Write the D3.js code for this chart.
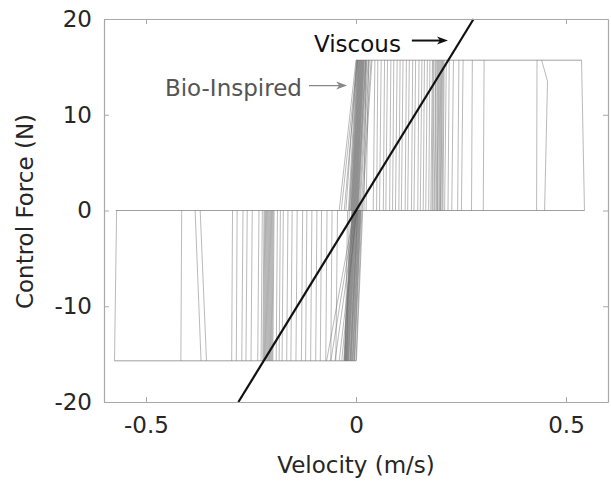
<!DOCTYPE html>
<html>
<head>
<meta charset="utf-8">
<script src="https://cdn.jsdelivr.net/npm/d3@7"></script>
<style>
  body { margin: 0; background: #fff; }
  text { font-family: "DejaVu Sans", sans-serif; }
</style>
</head>
<body>
<div id="chart"></div>
<script>
// saturation force of the bio-inspired controller (N)
const fSat = 15.7;

// upper branch: [velocity at F = 0, velocity at F = +fSat]
const upperLines = [
    [-0.040, 0.000], [-0.035, 0.003], [-0.028, 0.004], [-0.024, 0.001],
    [-0.018, 0.002], [-0.016, 0.004], [-0.015, 0.005], [-0.013, 0.006], [-0.012, 0.007],
    [-0.011, 0.008], [-0.010, 0.009], [-0.009, 0.010], [-0.008, 0.011], [-0.007, 0.012],
    [-0.006, 0.013], [-0.005, 0.014], [-0.004, 0.015], [-0.003, 0.016], [-0.002, 0.017],
    [-0.001, 0.018], [0.000, 0.019], [0.001, 0.020], [0.002, 0.022], [0.003, 0.023],
    [0.004, 0.024], [0.005, 0.026], [0.007, 0.029], [0.009, 0.032], [0.012, 0.036],
    [0.015, 0.038], [0.019, 0.024], [0.024, 0.030],
    [0.041, 0.045], [0.049, 0.052], [0.056, 0.060], [0.065, 0.068], [0.071, 0.075],
    [0.080, 0.083], [0.087, 0.090], [0.094, 0.098], [0.102, 0.105], [0.108, 0.112],
    [0.117, 0.120], [0.123, 0.127], [0.132, 0.135], [0.138, 0.142], [0.147, 0.150],
    [0.153, 0.157], [0.160, 0.163], [0.166, 0.170], [0.173, 0.176], [0.178, 0.182],
    [0.181, 0.184], [0.183, 0.186], [0.186, 0.190], [0.188, 0.191], [0.191, 0.194],
    [0.193, 0.196], [0.194, 0.198], [0.197, 0.200], [0.199, 0.202], [0.201, 0.204],
    [0.202, 0.206], [0.205, 0.208], [0.207, 0.210], [0.211, 0.215], [0.219, 0.222],
    [0.228, 0.232], [0.242, 0.245], [0.251, 0.255], [0.275, 0.277], [0.303, 0.305],
    [0.430, 0.431], [0.544, 0.537]
];

// lower branch: [velocity at F = 0, velocity at F = -fSat]
const lowerLines = [
    [0.002, -0.040], [0.000, -0.050], [-0.002, -0.060], [-0.004, -0.070], [0.001, -0.034],
    [-0.010, -0.029], [-0.009, -0.028], [-0.008, -0.027], [-0.007, -0.026], [-0.006, -0.025],
    [-0.005, -0.024], [-0.004, -0.023], [-0.003, -0.022], [-0.002, -0.021], [-0.001, -0.020],
    [0.000, -0.019], [0.001, -0.018], [0.002, -0.017], [0.003, -0.015], [0.004, -0.014],
    [0.004, -0.013], [0.005, -0.012], [0.006, -0.011], [0.007, -0.009], [0.008, -0.008],
    [0.009, -0.007], [0.010, -0.005], [0.011, -0.004], [0.012, -0.003], [0.014, 0.000],
    [0.016, 0.001], [-0.016, -0.022], [-0.020, -0.026],
    [-0.044, -0.048], [-0.057, -0.060], [-0.069, -0.072], [-0.082, -0.085], [-0.093, -0.096],
    [-0.105, -0.108], [-0.117, -0.120], [-0.127, -0.130], [-0.140, -0.143], [-0.152, -0.155],
    [-0.162, -0.165], [-0.173, -0.176], [-0.180, -0.183], [-0.187, -0.190], [-0.195, -0.198],
    [-0.197, -0.200], [-0.199, -0.202], [-0.201, -0.204], [-0.203, -0.206], [-0.205, -0.208],
    [-0.207, -0.210], [-0.209, -0.212], [-0.211, -0.214], [-0.213, -0.216], [-0.215, -0.218],
    [-0.217, -0.220], [-0.219, -0.222], [-0.223, -0.226], [-0.231, -0.234], [-0.247, -0.250],
    [-0.259, -0.262], [-0.269, -0.272], [-0.283, -0.285], [-0.294, -0.296], [-0.415, -0.417],
    [-0.383, -0.369], [-0.371, -0.356], [-0.570, -0.575]
];

// one trajectory with a kink near the right end
const kinkV = [0.442, 0.456, 0.449];
const kinkF = [15.7, 13.5, 0];

// plateaus of the bio-inspired force: [v start, v end, force]
const plateaus = [
    [0.000, 0.537, 15.7],
    [-0.572, 0.544, 0],
    [-0.575, 0.000, -15.7]
];

// viscous damper line
const viscousV = [-0.28, 0.28];
const viscousF = [-20, 20];

const xTicks = [-0.5, 0, 0.5];
const yTicks = [-20, -10, 0, 10, 20];

const width = 611, height = 481;
const margin = { top: 19, right: 3, bottom: 79, left: 104 };

const x = d3.scaleLinear().domain([-0.6, 0.6]).range([margin.left, width - margin.right]);
const y = d3.scaleLinear().domain([-20, 20]).range([height - margin.bottom, margin.top]);

const svg = d3.select("#chart")
    .append("svg")
    .attr("width", width)
    .attr("height", height);

// bio-inspired traces
const traces = svg.append("g")
    .attr("fill", "none")
    .attr("stroke", "#666")
    .attr("stroke-opacity", 0.5)
    .attr("stroke-width", 0.9);

traces.selectAll(".up")
    .data(upperLines)
    .enter()
    .append("line")
    .attr("x1", d => x(d[0]))
    .attr("y1", y(0))
    .attr("x2", d => x(d[1]))
    .attr("y2", y(fSat));

traces.selectAll(".low")
    .data(lowerLines)
    .enter()
    .append("line")
    .attr("x1", d => x(d[0]))
    .attr("y1", y(0))
    .attr("x2", d => x(d[1]))
    .attr("y2", y(-fSat));

traces.append("path")
    .attr("d", d3.line()(kinkV.map((v, i) => [x(v), y(kinkF[i])])));

traces.selectAll(".plateau")
    .data(plateaus)
    .enter()
    .append("line")
    .attr("stroke-opacity", 0.7)
    .attr("x1", d => x(d[0]))
    .attr("x2", d => x(d[1]))
    .attr("y1", d => y(d[2]))
    .attr("y2", d => y(d[2]));

// viscous line
svg.append("path")
    .attr("fill", "none")
    .attr("stroke", "#111")
    .attr("stroke-width", 2.2)
    .attr("d", d3.line()(viscousV.map((v, i) => [x(v), y(viscousF[i])])));

// axes (box with inward ticks)
const fmt = d => String(d);
const axisColor = "#a8a8a8";

function styleAxis(g) {
    g.select(".domain").attr("stroke", axisColor).attr("stroke-width", 1.2);
    g.selectAll(".tick line").attr("stroke", axisColor);
    g.selectAll(".tick text")
        .attr("fill", "#262626")
        .style("font-family", "'DejaVu Sans', sans-serif")
        .style("font-size", "23px");
}

svg.append("g")
    .attr("transform", "translate(0," + y.range()[0] + ")")
    .call(d3.axisBottom(x).tickValues(xTicks).tickFormat(fmt).tickSizeInner(-5).tickSizeOuter(0).tickPadding(15))
    .call(styleAxis);

svg.append("g")
    .attr("transform", "translate(0," + y.range()[1] + ")")
    .call(d3.axisTop(x).tickValues(xTicks).tickFormat("").tickSizeInner(-5).tickSizeOuter(0))
    .call(styleAxis);

svg.append("g")
    .attr("transform", "translate(" + x.range()[0] + ",0)")
    .call(d3.axisLeft(y).tickValues(yTicks).tickFormat(fmt).tickSizeInner(-5).tickSizeOuter(0).tickPadding(12))
    .call(styleAxis);

svg.append("g")
    .attr("transform", "translate(" + x.range()[1] + ",0)")
    .call(d3.axisRight(y).tickValues(yTicks).tickFormat("").tickSizeInner(-5).tickSizeOuter(0))
    .call(styleAxis);

// axis labels
svg.append("text")
    .attr("x", x(0))
    .attr("y", 473)
    .attr("text-anchor", "middle")
    .attr("fill", "#262626")
    .style("font-size", "23px")
    .text("Velocity (m/s)");

svg.append("text")
    .attr("transform", "translate(33," + ((y.range()[0] + y.range()[1]) / 2 + 1) + ") rotate(-90)")
    .attr("text-anchor", "middle")
    .attr("fill", "#262626")
    .style("font-size", "23px")
    .text("Control Force (N)");

// annotations
function arrow(v1, v2, f, color, width) {
    const x1 = x(v1), x2 = x(v2), yy = y(f);
    svg.append("line")
        .attr("x1", x1).attr("y1", yy)
        .attr("x2", x2 - 6).attr("y2", yy)
        .attr("stroke", color)
        .attr("stroke-width", width);
    svg.append("path")
        .attr("d", "M" + x2 + "," + yy + "L" + (x2 - 11) + "," + (yy - 4) + "L" + (x2 - 8) + "," + yy + "L" + (x2 - 11) + "," + (yy + 4) + "Z")
        .attr("fill", color);
}

svg.append("text")
    .attr("x", x(-0.455))
    .attr("y", y(12.0))
    .attr("fill", "#555")
    .style("font-size", "23px")
    .text("Bio-Inspired");
arrow(-0.112, -0.021, 13.05, "#888", 1.2);

svg.append("text")
    .attr("x", x(-0.100))
    .attr("y", y(16.6))
    .attr("fill", "#111")
    .style("font-size", "23px")
    .text("Viscous");
arrow(0.133, 0.219, 17.75, "#111", 2);
</script>
</body>
</html>
